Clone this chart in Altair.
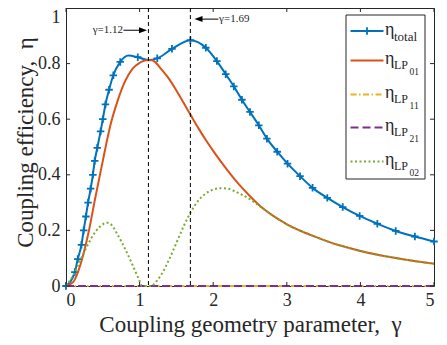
import altair as alt
import pandas as pd

# ---------------- data ----------------
# total efficiency: marker positions
g_total = [0, 0.12, 0.16, 0.21, 0.24, 0.27, 0.30, 0.335, 0.365, 0.39, 0.425, 0.47, 0.50,
           0.536, 0.585, 0.643, 0.737, 0.975, 1.24, 1.44, 1.69, 1.90, 2.05, 2.17, 2.28,
           2.39, 2.50, 2.62, 2.73, 2.87, 3.01, 3.18, 3.35, 3.55, 3.76, 3.99, 4.23, 4.48,
           4.74, 5.0]
e_total = [0, 0.05, 0.097, 0.148, 0.20, 0.25, 0.30, 0.35, 0.40, 0.45, 0.497, 0.556, 0.60,
           0.653, 0.706, 0.758, 0.806, 0.823, 0.819, 0.853, 0.884, 0.857, 0.809, 0.762, 0.718,
           0.67, 0.626, 0.578, 0.53, 0.483, 0.44, 0.395, 0.353, 0.317, 0.284, 0.252, 0.224, 0.198,
           0.178, 0.16]
# extra curve vertices of the total line (between markers)
g_total_extra = [0.85, 1.12]
e_total_extra = [0.829, 0.813]

g_modes = [0, 0.1, 0.2, 0.3, 0.4, 0.5, 0.55, 0.6, 0.7, 0.8, 0.9, 1.0, 1.03, 1.1, 1.17, 1.2,
           1.3, 1.4, 1.5, 1.6, 1.7, 1.8, 1.9, 2.0, 2.1, 2.2, 2.3, 2.4, 2.5, 2.6, 2.7, 2.8, 2.9,
           3.0, 3.2, 3.4, 3.6, 3.8, 4.0, 4.2, 4.4, 4.6, 4.8, 5.0]
e_lp01 = [0, 0.015, 0.08, 0.185, 0.32, 0.45, 0.515, 0.575, 0.665, 0.735, 0.78, 0.803,
          0.807, 0.812, 0.812, 0.808, 0.778, 0.745, 0.703, 0.658, 0.612, 0.567, 0.525, 0.486,
          0.449, 0.414, 0.381, 0.351, 0.323, 0.297, 0.274, 0.255, 0.238, 0.222,
          0.197, 0.176, 0.156, 0.14, 0.126, 0.114, 0.104, 0.095, 0.087, 0.08]
e_lp02 = [0, 0.04, 0.095, 0.15, 0.195, 0.222, 0.228, 0.224, 0.185, 0.135, 0.078, 0.018,
          0.0, 0.0, 0.0, 0.008, 0.043, 0.095, 0.155, 0.216, 0.268, 0.308, 0.333, 0.347,
          0.352, 0.35, 0.34, 0.327, 0.312, 0.293, 0.274, 0.255, 0.238, 0.222,
          0.197, 0.176, 0.156, 0.14, 0.126, 0.114, 0.104, 0.095, 0.087, 0.08]
g_zero = [0, 5]
e_lp11 = [0, 0]
e_lp21 = [0, 0]

v_lines = [1.12, 1.69]
x_ticks = [0, 1, 2, 3, 4, 5]
y_ticks = [0, 0.2, 0.4, 0.6, 0.8, 1.0]

# annotations: text, arrow-line from/to, arrowhead centre, height
ann_text = ["γ=1.12", "γ=1.69"]
ann_text_g = [0.775, 2.08]
ann_line_g1 = [0.78, 1.80]
ann_line_g2 = [1.046, 2.07]
ann_head_g = [1.046, 1.80]
ann_e = [0.92, 0.96]

# ---------------- styling ----------------
W, H = 368, 278
FONT = "Liberation Serif"
TXT = "#262626"
C_TOT, C_01, C_11, C_21, C_02 = "#0072BD", "#D95319", "#EDB120", "#7E2F8E", "#77AC30"

xs = alt.Scale(domain=[0, 5], nice=False, zero=False)
ys = alt.Scale(domain=[0, 1], nice=False, zero=False)

X_TITLE = "Coupling geometry parameter,\u00a0 γ"
Y_TITLE = "Coupling efficiency,\u00a0 η"
x_axis = alt.Axis(values=x_ticks, format="d", ticks=False, domain=False, grid=False,
                  labelFont=FONT, labelFontSize=18, labelColor=TXT, labelPadding=5,
                  title=X_TITLE, titleFont=FONT, titleFontSize=23,
                  titleFontWeight="normal", titleColor=TXT, titleY=45.5,
                  titleBaseline="alphabetic")
y_axis = alt.Axis(values=y_ticks, format="~g", ticks=False, domain=False, grid=False,
                  labelFont=FONT, labelFontSize=18, labelColor=TXT, labelPadding=6,
                  labelBaseline={"condition": {"test": "datum.value === 1", "value": "top"},
                                 "value": "middle"},
                  title=Y_TITLE, titleFont=FONT, titleFontSize=23,
                  titleFontWeight="normal", titleColor=TXT, titleX=-34, titleY=134,
                  titleBaseline="alphabetic", titleAnchor="middle")


def X(field):
    return alt.X(field, scale=xs, axis=x_axis, title=X_TITLE)


def Y(field):
    return alt.Y(field, scale=ys, axis=y_axis, title=Y_TITLE)


one = pd.DataFrame({"a": [0]})

df_total_line = pd.DataFrame({"g": g_total + g_total_extra, "e": e_total + e_total_extra}).sort_values("g")
df_total_pts = pd.DataFrame({"g": g_total, "e": e_total})
df01 = pd.DataFrame({"g": g_modes, "e": e_lp01})
df02 = pd.DataFrame({"g": g_modes, "e": e_lp02})
df11 = pd.DataFrame({"g": g_zero, "e": e_lp11})
df21 = pd.DataFrame({"g": g_zero, "e": e_lp21})

layers = []
layers.append(alt.Chart(df_total_line).mark_line(color=C_TOT, strokeWidth=2, interpolate="monotone")
              .encode(x=X("g:Q"), y=Y("e:Q")))
plus = "M-1,0L1,0M0,-1L0,1"
layers.append(alt.Chart(df_total_pts).mark_point(shape=plus, filled=False, color=C_TOT, strokeWidth=1.8,
                                                  size=56, opacity=1).encode(x=X("g:Q"), y=Y("e:Q")))
layers.append(alt.Chart(df01).mark_line(color=C_01, strokeWidth=2, interpolate="monotone")
              .encode(x=X("g:Q"), y=Y("e:Q")))
layers.append(alt.Chart(df11).mark_line(color=C_11, strokeWidth=2, strokeDash=[6, 2.5, 1.5, 2.5])
              .encode(x=X("g:Q"), y=Y("e:Q")))
layers.append(alt.Chart(df21).mark_line(color=C_21, strokeWidth=2, strokeDash=[8, 4])
              .encode(x=X("g:Q"), y=Y("e:Q")))
layers.append(alt.Chart(df02).mark_line(color=C_02, strokeWidth=2, strokeDash=[2, 2.5], interpolate="monotone")
              .encode(x=X("g:Q"), y=Y("e:Q")))

# vertical dashed lines
df_v = pd.DataFrame({"g": v_lines})
layers.append(alt.Chart(df_v).mark_rule(color="black", strokeWidth=1, strokeDash=[4, 3])
              .encode(x=X("g:Q"), y=alt.value(0), y2=alt.value(H)))

# annotations
df_ann = pd.DataFrame({"t": ann_text, "tg": ann_text_g, "g1": ann_line_g1, "g2": ann_line_g2,
                       "hg": ann_head_g, "e": ann_e})
layers.append(alt.Chart(df_ann).mark_rule(color="black", strokeWidth=1)
              .encode(x=X("g1:Q"), x2="g2:Q", y=Y("e:Q")))
head_r = "M1,0L-1,-0.75L-1,0.75Z"
head_l = "M-1,0L1,-0.75L1,0.75Z"
layers.append(alt.Chart(df_ann.iloc[[0]]).mark_point(shape=head_r, filled=True, color="black", size=64, opacity=1)
              .encode(x=X("hg:Q"), y=Y("e:Q")))
layers.append(alt.Chart(df_ann.iloc[[1]]).mark_point(shape=head_l, filled=True, color="black", size=64, opacity=1)
              .encode(x=X("hg:Q"), y=Y("e:Q")))
layers.append(alt.Chart(df_ann.iloc[[0]]).mark_text(font=FONT, fontSize=11, color=TXT, align="right",
                                                    baseline="middle")
              .encode(x=X("tg:Q"), y=Y("e:Q"), text="t:N"))
layers.append(alt.Chart(df_ann.iloc[[1]]).mark_text(font=FONT, fontSize=11, color=TXT, align="left",
                                                    baseline="middle")
              .encode(x=X("tg:Q"), y=Y("e:Q"), text="t:N"))

# inward ticks on all four sides
df_xt = pd.DataFrame({"g": x_ticks})
df_yt = pd.DataFrame({"e": y_ticks})
for y0, y1 in [(H, H - 4), (0, 4)]:
    layers.append(alt.Chart(df_xt).mark_rule(color=TXT, strokeWidth=1)
                  .encode(x=X("g:Q"), y=alt.value(y0), y2=alt.value(y1)))
for x0, x1 in [(0, 4), (W, W - 4)]:
    layers.append(alt.Chart(df_yt).mark_rule(color=TXT, strokeWidth=1)
                  .encode(y=Y("e:Q"), x=alt.value(x0), x2=alt.value(x1)))

# legend (drawn manually to allow subscripts), anchored to the right frame
BR = W - 9          # box right
BL = BR - 79        # box left
layers.append(alt.Chart(one).mark_rect(fill="white", stroke=TXT, strokeWidth=1)
              .encode(x=alt.value(BL), x2=alt.value(BR), y=alt.value(7), y2=alt.value(171)))
legend_rows = [
    ("total", None, C_TOT, None),
    ("LP", "01", C_01, None),
    ("LP", "11", C_11, [6, 2.5, 1.5, 2.5]),
    ("LP", "21", C_21, [8, 4]),
    ("LP", "02", C_02, [2, 2.5]),
]
row_y = [23, 52.5, 86.5, 119.5, 153.5]
for (sub, subsub, col, dash), ry in zip(legend_rows, row_y):
    kw = dict(color=col, strokeWidth=2)
    if dash:
        kw["strokeDash"] = dash
    layers.append(alt.Chart(one).mark_rule(**kw)
                  .encode(x=alt.value(BL + 4.5), x2=alt.value(BL + 37.5), y=alt.value(ry)))
    if subsub is None:
        layers.append(alt.Chart(one).mark_point(shape=plus, filled=False, color=col, strokeWidth=1.8,
                                                size=56, opacity=1)
                      .encode(x=alt.value(BL + 21), y=alt.value(ry)))
    layers.append(alt.Chart(one).mark_text(text="η", font=FONT, fontSize=18, color=TXT, align="left",
                                           baseline="alphabetic")
                  .encode(x=alt.value(BL + 39), y=alt.value(ry + 3.5)))
    if subsub is None:
        layers.append(alt.Chart(one).mark_text(text=sub, font=FONT, fontSize=13, color=TXT, align="left",
                                               baseline="alphabetic")
                      .encode(x=alt.value(BL + 48), y=alt.value(ry + 9.5)))
    else:
        layers.append(alt.Chart(one).mark_text(text=sub, font=FONT, fontSize=12, color=TXT, align="left",
                                               baseline="alphabetic")
                      .encode(x=alt.value(BL + 48), y=alt.value(ry + 8)))
        layers.append(alt.Chart(one).mark_text(text=subsub, font=FONT, fontSize=9.5, color=TXT, align="left",
                                               baseline="alphabetic")
                      .encode(x=alt.value(BL + 63.5), y=alt.value(ry + 14.5)))

chart = alt.layer(*layers).properties(
    width=W, height=H,
    autosize=alt.AutoSizeParams(type="none"),
    padding={"left": 58, "top": 0, "right": 5, "bottom": 51},
    background="white",
).configure_view(stroke=TXT, strokeWidth=1)

chart.save("out.html", embed_options={"renderer": "svg", "actions": False})
